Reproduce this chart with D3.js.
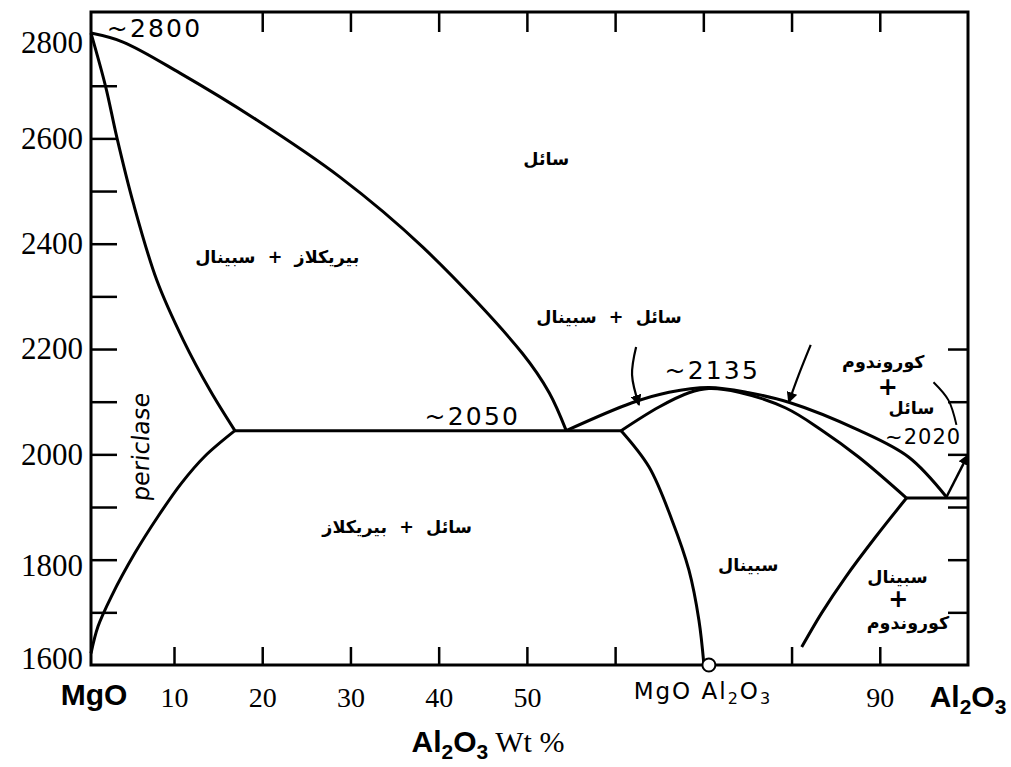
<!DOCTYPE html>
<html>
<head>
<meta charset="utf-8">
<script src="https://cdn.jsdelivr.net/npm/d3@7"></script>
<style>
body { margin: 0; background: #fff; }
svg { display: block; }
</style>
</head>
<body>
<svg id="chart" width="1011" height="767"></svg>
<script>
// composition is wt% Al2O3, temperature in C
var liquidusPericlase = [[0, 2800], [3.86, 2783], [10.68, 2724], [19.39, 2635], [28.78, 2527], [38.17, 2394], [49.48, 2192], [52.53, 2117], [54.46, 2045]];
var solidusPericlase = [[0, 2800], [1.77, 2698], [3.1, 2603], [5.1, 2477], [7.92, 2331], [11.05, 2217], [14.07, 2122], [16.9, 2045]];
var solvusPericlase = [[16.9, 2045], [13.47, 1996], [10.83, 1945], [8.07, 1882], [5.27, 1812], [2.45, 1730], [0.84, 1673], [0, 1622]];
var eutecticLeft = [[16.9, 2045], [60.68, 2045]];
var liquidusSpinel = [[54.46, 2045], [61.92, 2098], [66.11, 2118], [70.63, 2127], [75.16, 2117], [79.68, 2099], [87.6, 2046], [93.26, 1995], [97.56, 1919]];
var solidusSpinel = [[60.68, 2045], [64.98, 2090], [68.37, 2117], [70.63, 2125], [74.03, 2118], [79.34, 2088], [83.42, 2046], [87.6, 1995], [93.03, 1917]];
var solvusSpinelLeft = [[60.68, 2045], [63.85, 1976], [66.45, 1875], [68.37, 1780], [69.5, 1685], [70.07, 1600]];
var solvusSpinelRight = [[93.03, 1917], [89.52, 1843], [86.13, 1767], [83.42, 1699], [81.15, 1634]];
var eutecticRight = [[93.03, 1917], [100, 1917]];
var liquidusCorundum = [[97.56, 1919], [100, 1999]];

var arrowLeft = [[62.38, 2204], [61.92, 2151], [62.71, 2094]];
var arrowRight = [[82.17, 2208], [80.81, 2151], [79.68, 2099]];
var arcRight = [[96.09, 2137], [97.78, 2103], [98.69, 2056]];

var spinelPoint = [70.63, 1600];

var yLabelTicks = [1600, 1800, 2000, 2200, 2400, 2600, 2800];
var yMinorTicks = [1700, 1800, 1900, 2000, 2100, 2200, 2300, 2400, 2500, 2600, 2700];
var yRightTicks = [1700, 1800, 1900, 2000, 2100, 2200];
var xBottomTicks = [10, 20, 30, 40, 50, 60, 80, 90];
var xTopTicks = [20, 30, 40, 50, 60, 70, 80, 90];
var xTickLabels = [10, 20, 30, 40, 50, 90];

var NB = "\u00a0\u00a0";
var phaseLabels = [
	{text: "سائل", c: 52.2, t: 2559},
	{text: "بیریکلاز" + NB + "+" + NB + "سبینال", c: 21.7, t: 2373},
	{text: "سائل" + NB + "+" + NB + "سبینال", c: 59.3, t: 2259},
	{text: "سائل" + NB + "+" + NB + "بیریکلاز", c: 35.3, t: 1860},
	{text: "سبینال", c: 75.1, t: 1788},
	{text: "سبینال", c: 92, t: 1765},
	{text: "کوروندوم", c: 93.2, t: 1678},
	{text: "کوروندوم", c: 90.4, t: 2173},
	{text: "سائل", c: 93.6, t: 2086}
];
var plusLabels = [[92.1, 1723], [90.9, 2126]];
var tempLabels = [
	{text: "~2800", c: 1.9, t: 2805},
	{text: "~2050", c: 38.4, t: 2069},
	{text: "~2135", c: 65.6, t: 2156},
	{text: "~2020", c: 90.6, t: 2031}
];

var svg = d3.select("#chart");
// the printed scale is a little stretched between MgO and 10
var x = d3.scaleLinear().domain([0, 10, 100]).range([91, 174, 968]);
var y = d3.scaleLinear().domain([1600, 2840]).range([665, 12]);

var line = d3.line()
	.x(function(d) { return x(d[0]); })
	.y(function(d) { return y(d[1]); })
	.curve(d3.curveCatmullRom.alpha(0.5));

svg.append("defs").append("marker")
	.attr("id", "head")
	.attr("viewBox", "0 0 10 10")
	.attr("refX", 9).attr("refY", 5)
	.attr("markerWidth", 11).attr("markerHeight", 11)
	.attr("markerUnits", "userSpaceOnUse")
	.attr("orient", "auto")
	.append("path")
	.attr("d", "M0,0 L10,5 L0,10 z")
	.attr("fill", "#000");

// axes, ticks pointing inward
function styleAxis(g) {
	g.select(".domain").remove();
	g.selectAll(".tick line").attr("stroke", "#000").attr("stroke-width", 2.5);
}

svg.append("g")
	.attr("transform", "translate(" + x(0) + ",0)")
	.call(d3.axisLeft(y).tickValues(yMinorTicks.concat([1600, 2800])).tickSize(-26).tickPadding(8)
		.tickFormat(function(d) { return yLabelTicks.indexOf(d) >= 0 ? d : ""; }))
	.call(styleAxis)
	.call(function(g) {
		g.selectAll(".tick text")
			.attr("font-family", "'Liberation Serif', serif")
			.attr("font-size", 31)
			.attr("fill", "#000");
		g.selectAll(".tick").filter(function(d) { return d == 1600 || d == 2800; }).select("line").remove();
		g.selectAll(".tick").filter(function(d) { return d == 2800; }).select("text").attr("dy", "0.62em");
		g.selectAll(".tick").filter(function(d) { return d == 1600; }).select("text").attr("dy", "0.12em");
		g.selectAll(".tick").filter(function(d) { return d == 1800; }).select("text").attr("dy", "0.5em");
	});

svg.append("g")
	.attr("transform", "translate(" + x(100) + ",0)")
	.call(d3.axisRight(y).tickValues(yRightTicks).tickSize(-20).tickFormat(""))
	.call(styleAxis);

svg.append("g")
	.attr("transform", "translate(0," + y(1600) + ")")
	.call(d3.axisBottom(x).tickValues(xBottomTicks).tickSize(-18).tickPadding(22)
		.tickFormat(function(d) { return xTickLabels.indexOf(d) >= 0 ? d : ""; }))
	.call(styleAxis)
	.call(function(g) {
		g.selectAll(".tick text")
			.attr("font-family", "'Liberation Serif', serif")
			.attr("font-size", 28)
			.attr("fill", "#000");
	});

svg.append("g")
	.attr("transform", "translate(0," + y(2840) + ")")
	.call(d3.axisTop(x).tickValues(xTopTicks).tickSize(-20).tickFormat(""))
	.call(styleAxis);

// frame
svg.append("rect")
	.attr("x", x(0)).attr("y", y(2840))
	.attr("width", x(100) - x(0)).attr("height", y(1600) - y(2840))
	.attr("fill", "none").attr("stroke", "#000").attr("stroke-width", 3);

// phase boundaries
var curves = [liquidusPericlase, solidusPericlase, solvusPericlase, eutecticLeft,
	liquidusSpinel, solidusSpinel, solvusSpinelLeft, solvusSpinelRight, eutecticRight];
svg.append("g").selectAll("path")
	.data(curves)
	.enter().append("path")
	.attr("d", line)
	.attr("fill", "none")
	.attr("stroke", "#000")
	.attr("stroke-width", 3)
	.attr("stroke-linejoin", "round");

svg.append("path")
	.attr("d", line(liquidusCorundum))
	.attr("fill", "none").attr("stroke", "#000").attr("stroke-width", 2.5)
	.attr("marker-end", "url(#head)");

svg.append("g").selectAll("path")
	.data([arrowLeft, arrowRight])
	.enter().append("path")
	.attr("d", line)
	.attr("fill", "none").attr("stroke", "#000").attr("stroke-width", 2.2)
	.attr("marker-end", "url(#head)");

svg.append("path")
	.attr("d", line(arcRight))
	.attr("fill", "none").attr("stroke", "#000").attr("stroke-width", 2);

svg.append("circle")
	.attr("cx", x(spinelPoint[0])).attr("cy", y(spinelPoint[1]))
	.attr("r", 6.5)
	.attr("fill", "#fff").attr("stroke", "#000").attr("stroke-width", 2);

// labels
svg.append("g").selectAll("text")
	.data(phaseLabels)
	.enter().append("text")
	.attr("x", function(d) { return x(d.c); })
	.attr("y", function(d) { return y(d.t); })
	.attr("text-anchor", "middle")
	.attr("dominant-baseline", "middle")
	.attr("font-family", "'DejaVu Sans', sans-serif")
	.attr("font-weight", "bold")
	.attr("font-size", 17.5)
	.text(function(d) { return d.text; });

svg.append("g").selectAll("text")
	.data(plusLabels)
	.enter().append("text")
	.attr("x", function(d) { return x(d[0]); })
	.attr("y", function(d) { return y(d[1]); })
	.attr("text-anchor", "middle")
	.attr("dominant-baseline", "middle")
	.attr("font-family", "'DejaVu Sans', sans-serif")
	.attr("font-weight", "bold")
	.attr("font-size", 24)
	.text("+");

// the ~2020 note is squeezed against the right edge
svg.append("g").selectAll("text")
	.data(tempLabels)
	.enter().append("text")
	.attr("x", function(d) { return x(d.c); })
	.attr("y", function(d) { return y(d.t); })
	.attr("dominant-baseline", "middle")
	.attr("font-family", "'DejaVu Sans', sans-serif")
	.attr("font-size", function(d) { return d.text == "~2020" ? 21 : 25; })
	.attr("letter-spacing", function(d) { return d.text == "~2020" ? 1 : 2.2; })
	.text(function(d) { return d.text; });

svg.append("text")
	.attr("transform", "translate(" + x(6.1) + "," + y(2014) + ") rotate(-90) skewX(-6)")
	.attr("text-anchor", "middle")
	.attr("dominant-baseline", "middle")
	.attr("font-family", "'DejaVu Sans', sans-serif")
	.attr("font-size", 24)
	.text("periclase");

// component names under the axis
svg.append("text")
	.attr("x", 94).attr("y", 705)
	.attr("text-anchor", "middle")
	.attr("font-family", "'Liberation Sans', Arial, sans-serif")
	.attr("font-weight", "bold")
	.attr("font-size", 30)
	.text("MgO");

var al = svg.append("text")
	.attr("x", 968).attr("y", 707)
	.attr("text-anchor", "middle")
	.attr("font-family", "'Liberation Sans', Arial, sans-serif")
	.attr("font-weight", "bold")
	.attr("font-size", 30);
al.append("tspan").text("Al");
al.append("tspan").attr("font-size", 21).attr("dy", 7).text("2");
al.append("tspan").attr("dy", -7).text("O");
al.append("tspan").attr("font-size", 21).attr("dy", 7).text("3");

var sp = svg.append("text")
	.attr("x", x(spinelPoint[0]) - 6).attr("y", 699)
	.attr("text-anchor", "middle")
	.attr("font-family", "'DejaVu Sans', sans-serif")
	.attr("font-size", 23)
	.attr("letter-spacing", 2);
sp.append("tspan").text("MgO Al");
sp.append("tspan").attr("font-size", 16).attr("dy", 5).text("2");
sp.append("tspan").attr("dy", -5).text("O");
sp.append("tspan").attr("font-size", 16).attr("dy", 5).text("3");

var title = svg.append("text")
	.attr("x", 488).attr("y", 752)
	.attr("text-anchor", "middle")
	.attr("font-size", 30);
title.append("tspan").attr("font-family", "'Liberation Sans', Arial, sans-serif").attr("font-weight", "bold").text("Al");
title.append("tspan").attr("font-family", "'Liberation Sans', Arial, sans-serif").attr("font-weight", "bold").attr("font-size", 21).attr("dy", 7).text("2");
title.append("tspan").attr("font-family", "'Liberation Sans', Arial, sans-serif").attr("font-weight", "bold").attr("dy", -7).text("O");
title.append("tspan").attr("font-family", "'Liberation Sans', Arial, sans-serif").attr("font-weight", "bold").attr("font-size", 21).attr("dy", 7).text("3");
title.append("tspan").attr("font-family", "'Liberation Serif', serif").attr("dy", -7).text(" Wt %");
</script>
</body>
</html>
